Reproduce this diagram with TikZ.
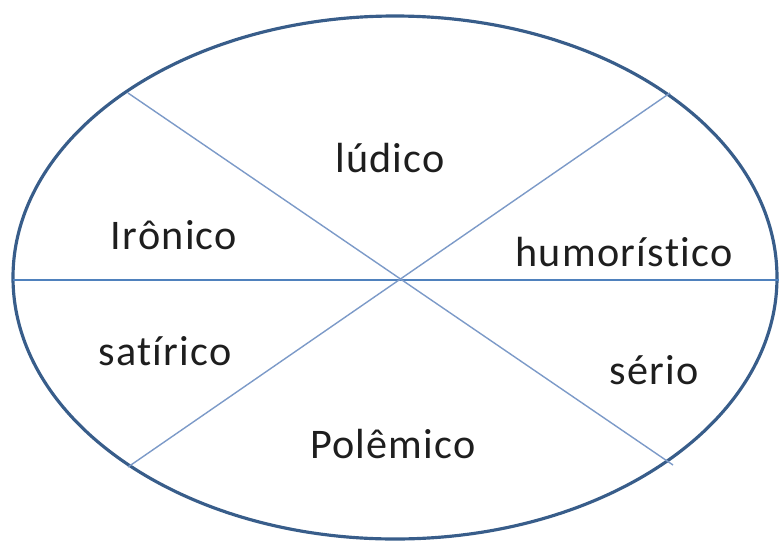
\documentclass[tikz,border=0pt]{standalone}
\usepackage{fontspec}
\setmainfont{Carlito}
\usepackage{xcolor}
\usetikzlibrary{calc}

\definecolor{outline}{RGB}{56,93,138}
\definecolor{spoke}{RGB}{124,154,200}
\definecolor{axisline}{RGB}{79,129,189}
\definecolor{label}{RGB}{30,30,30}

\begin{document}
\begin{tikzpicture}[x=0.02cm, y=-0.02cm,
    word/.style={anchor=base, text=label,
        font=\fontsize{24}{28}\selectfont\addfontfeatures{LetterSpace=3,Ligatures=NoCommon}}]
    \useasboundingbox (0,0) rectangle (779,542);

    % 1. Outer ellipse
    \draw[outline, line width=1.8pt] (395,277.5) ellipse (382 and 261.5);

    % 2. Dividing lines through the centre
    \coordinate (O) at (401,280);
    \draw[axisline, line width=0.8pt] (13,280) -- (779,280);
    \draw[spoke, line width=0.8pt] (128,93) -- (673,465);
    \draw[spoke, line width=0.8pt] (670,93) -- (128,467);

    % 3. Labels of the six sectors
    \node[word] (ludico) at (390,172) {lúdico};
    \node[word] (ironico) at (174,249) {Irônico};
    \node[word] (humor) at (624,266) {humorístico};
    \node[word] (satirico) at (165,365) {satírico};
    \node[word] (serio) at (654,384) {sério};
    \node[word] (polemico) at (393,458) {Polêmico};
\end{tikzpicture}
\end{document}
